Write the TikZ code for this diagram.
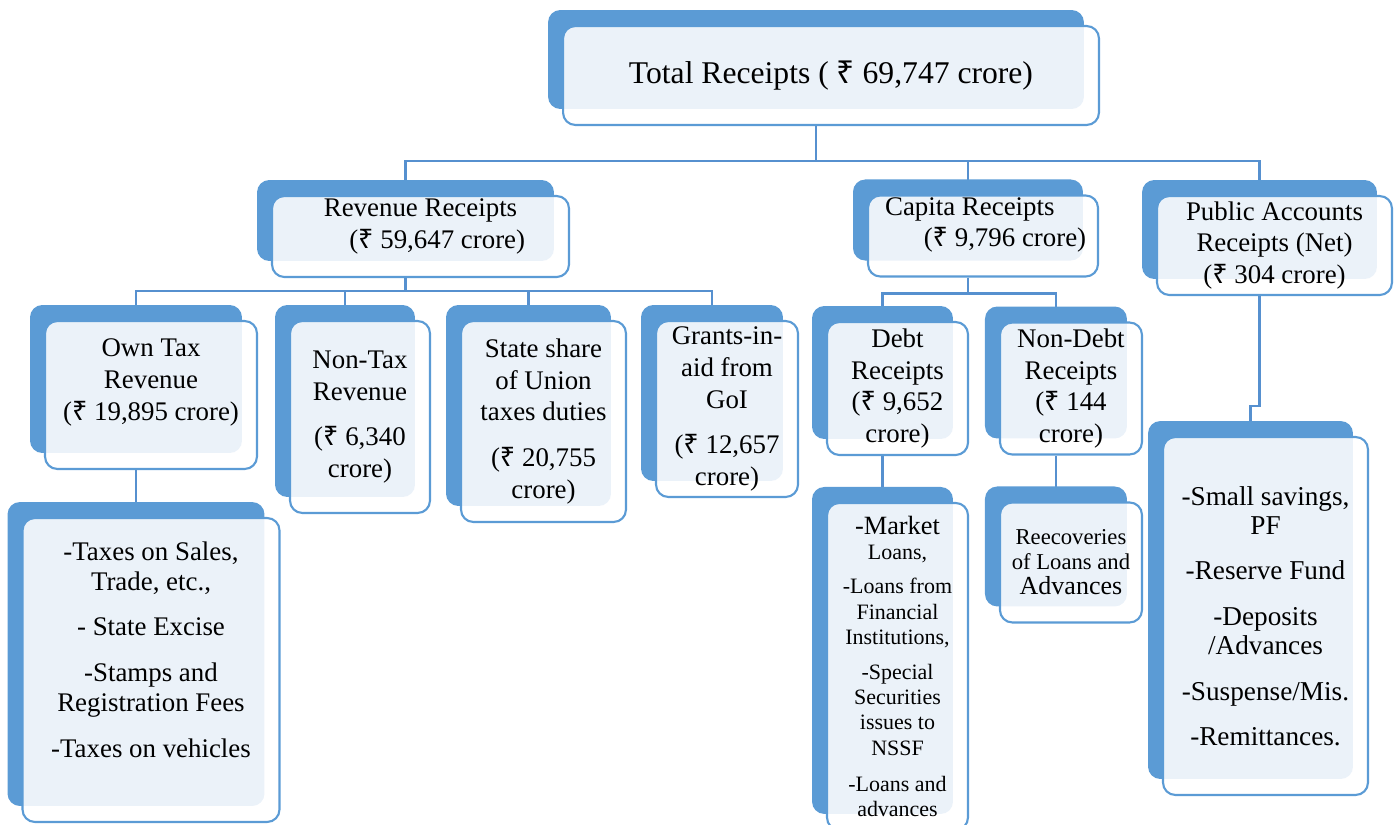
\documentclass[tikz,border=0pt]{standalone}
\usepackage{fontspec}
\setmainfont{Liberation Serif}
\newfontfamily\rupfont{Noto Sans}
\newcommand{\Rs}{{\rupfont ₹}}
\usetikzlibrary{positioning,backgrounds}
\definecolor{recblue}{HTML}{5B9BD5}
\definecolor{linkblue}{HTML}{5690CF}
\tikzset{
  rbox/.style={draw=recblue, line width=1.2pt, rounded corners=7pt, fill=white, fill opacity=0.88, text opacity=1,
    align=center, inner sep=1pt, font=\fontsize{15.3}{18}\selectfont,
    preaction={fill=recblue, draw=none, fill opacity=1, transform canvas={xshift=-0.3cm, yshift=0.32cm}}},
  link/.style={draw=linkblue, line width=1.3pt}
}

\begin{document}
\begin{tikzpicture}[x=0.02cm, y=-0.02cm, node distance=2cm]
        \useasboundingbox (0,0) rectangle (1394,825);
        % Top
        \node (total) [rbox, minimum width=10.72cm, minimum height=1.98cm, font=\fontsize{18}{22}\selectfont] at (831,75.5) {Total Receipts ( \Rs{} 69,747 crore)};
        % Second row
        \node (rev) [rbox, minimum width=5.94cm, minimum height=1.62cm] at (420.5,236.5) {Revenue Receipts\\\hspace*{19pt}(\Rs{} 59,647 crore)\\[-3pt]\mbox{}};
        \node (cap) [rbox, minimum width=4.6cm, minimum height=1.6cm] at (983,236) {Capita Receipts\hspace*{15pt}\\\hspace*{25pt}(\Rs{} 9,796 crore)\\[-2pt]\mbox{}};
        \node (pub) [rbox, minimum width=4.7cm, minimum height=1.98cm] at (1274.5,245.5) {Public Accounts\\Receipts (Net)\\(\Rs{} 304 crore)};
        % Third row
        \node (own) [rbox, minimum width=4.24cm, minimum height=2.96cm] at (151,395) {Own Tax\\Revenue\\(\Rs{} 19,895 crore)\\[-0.5pt]\mbox{}};
        \node (nontax) [rbox, minimum width=2.8cm, minimum height=3.84cm] at (360,417) {Non-Tax\\Revenue\\[8pt](\Rs{} 6,340\\crore)};
        \node (state) [rbox, minimum width=3.3cm, minimum height=4.02cm] at (543.5,421.5) {State share\\of Union\\taxes duties\\[8pt](\Rs{} 20,755\\crore)};
        \node (grants) [rbox, minimum width=2.84cm, minimum height=3.52cm] at (727,409) {Grants-in-\\aid from\\GoI\\[8pt](\Rs{} 12,657\\crore)};
        \node (debt) [rbox, minimum width=2.82cm, minimum height=2.66cm] at (897.5,388.5) {Debt\\Receipts\\(\Rs{} 9,652\\crore)};
        \node (nondebt) [rbox, minimum width=2.84cm, minimum height=2.64cm, right of=debt, node distance=3.47cm] {Non-Debt\\Receipts\\(\Rs{} 144\\crore)};
        % Bottom row
        \node (taxes) [rbox, minimum width=5.14cm, minimum height=6.08cm, font=\fontsize{15.3}{17}\selectfont] at (151,670) {-Taxes on Sales,\\Trade, etc.,\\[9pt]- State Excise\\[9pt]-Stamps and\\Registration Fees\\[9pt]-Taxes on vehicles\\[6.4pt]\mbox{}};
        \node (market) [rbox, minimum width=2.82cm, minimum height=6.54cm, font=\fontsize{12.5}{14.5}\selectfont, below of=debt, node distance=5.56cm] {{\fontsize{15}{17}\selectfont -Market}\\Loans,\\[5pt]-Loans from\\Financial\\Institutions,\\[5pt]-Special\\Securities\\issues to\\NSSF\\[6pt]-Loans and\\advances};
        \node (reco) [rbox, minimum width=2.84cm, minimum height=2.4cm, font=\fontsize{12.9}{14.2}\selectfont, below of=nondebt, node distance=3.48cm] {Reecoveries\\of Loans and\\{\fontsize{14.8}{16.5}\selectfont Advances}};
        \node (plist) [rbox, minimum width=4.1cm, minimum height=7.16cm, font=\fontsize{15.5}{16.8}\selectfont] at (1265.5,616) {-Small savings,\\PF\\[9pt]-Reserve Fund\\[9pt]-Deposits\\/Advances\\[9pt]-Suspense/Mis.\\[9pt]-Remittances.};

        % Links
        \begin{scope}[on background layer]
        \draw[link] ([xshift=-0.3cm]total.south) -- ++(0,35) -| ([xshift=-0.3cm]rev.north);
        \draw[link] ([xshift=-0.3cm]total.south) -- ++(0,35) -| ([xshift=-0.3cm]cap.north);
        \draw[link] ([xshift=-0.3cm]total.south) -- ++(0,35) -| ([xshift=-0.3cm]pub.north);
        \draw[link] ([xshift=-0.3cm]rev.south) -- ++(0,13) -| ([xshift=-0.3cm]own.north);
        \draw[link] ([xshift=-0.3cm]rev.south) -- ++(0,13) -| ([xshift=-0.3cm]nontax.north);
        \draw[link] ([xshift=-0.3cm]rev.south) -- ++(0,13) -| ([xshift=-0.3cm]state.north);
        \draw[link] ([xshift=-0.3cm]rev.south) -- ++(0,13) -| ([xshift=-0.3cm]grants.north);
        \draw[link] ([xshift=-0.3cm]cap.south) -- ++(0,16) -| ([xshift=-0.3cm]debt.north);
        \draw[link] ([xshift=-0.3cm]cap.south) -- ++(0,16) -| ([xshift=-0.3cm]nondebt.north);
        \draw[link] ([xshift=-0.3cm]own.south) -- ([xshift=-0.3cm]taxes.north);
        \draw[link] ([xshift=-0.3cm]debt.south) -- ([xshift=-0.3cm]market.north);
        \draw[link] ([xshift=-0.3cm]nondebt.south) -- ([xshift=-0.3cm]reco.north);
        \draw[link] ([xshift=-0.3cm]pub.south) -- ++(0,110) -| ([xshift=-0.3cm]plist.north);
        \end{scope}
    \end{tikzpicture}
\end{document}
